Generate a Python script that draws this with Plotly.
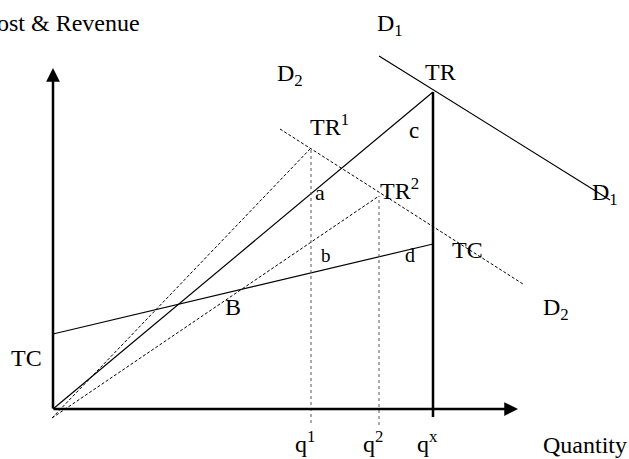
import plotly.graph_objects as go

# diagram values (quantity, cost/revenue), origin of axes at (0, 0)
axis_x_end = 465
axis_y_end = 341

q_labels = ["q<sup>1</sup>", "q<sup>2</sup>", "q<sup>x</sup>"]
q_values = [258, 326, 380]

tr_x = [0, 380]
tr_y = [0, 317]

tr1_x = [-1, 258]
tr1_y = [-9, 261]

tr2_x = [-1, 326]
tr2_y = [-9, 213]

tc_x = [0, 380]
tc_y = [75, 165]

d1_x = [326, 557]
d1_y = [353, 209]

d2_x = [227, 470]
d2_y = [280, 125]

q_tops = [261, 213, 317]
q_bottoms = [-14, -16, -8]

labels = [
    ("D<sub>1</sub>", 337, 384, 24),
    ("D<sub>2</sub>", 237, 334, 24),
    ("TR", 387, 337, 24),
    ("TR<sup>1</sup>", 276, 284, 24),
    ("c", 361, 279, 23),
    ("a", 267, 217, 22),
    ("TR<sup>2</sup>", 346, 220, 24),
    ("D<sub>1</sub>", 552, 215, 24),
    ("b", 273, 154, 19),
    ("d", 357, 154, 20),
    ("TC", 414, 159, 24),
    ("B", 180, 102, 24),
    ("D<sub>2</sub>", 503, 100, 24),
    ("TC", -27, 51, 24),
]

FONT = "Liberation Serif, Times New Roman, serif"

fig = go.Figure()

thin = dict(color="black", width=1.2)
dots = dict(color="black", width=1, dash="3px,2px")

fig.add_trace(go.Scatter(x=tr_x, y=tr_y, mode="lines", line=thin))
fig.add_trace(go.Scatter(x=tc_x, y=tc_y, mode="lines", line=thin))
fig.add_trace(go.Scatter(x=d1_x, y=d1_y, mode="lines", line=thin))
fig.add_trace(go.Scatter(x=tr1_x, y=tr1_y, mode="lines", line=dots))
fig.add_trace(go.Scatter(x=tr2_x, y=tr2_y, mode="lines", line=dots))
fig.add_trace(go.Scatter(x=d2_x, y=d2_y, mode="lines", line=dots))

# vertical lines at q1, q2 (dotted) and qx (thick)
for i, q in enumerate(q_values):
    if i < 2:
        ln = dict(color="#555555", width=1, dash="dot")
    else:
        ln = dict(color="black", width=2.5)
    fig.add_trace(go.Scatter(x=[q, q], y=[q_bottoms[i], q_tops[i]], mode="lines", line=ln))

# axes with arrowheads
fig.add_annotation(x=0, y=axis_y_end, ax=0, ay=-1, xref="x", yref="y", axref="x", ayref="y",
                   showarrow=True, arrowhead=2, arrowsize=1.1, arrowwidth=2.5, arrowcolor="black", text="")
fig.add_annotation(x=axis_x_end, y=0, ax=-1, ay=0, xref="x", yref="y", axref="x", ayref="y",
                   showarrow=True, arrowhead=2, arrowsize=1.1, arrowwidth=2.5, arrowcolor="black", text="")

for txt, x, y, size in labels:
    fig.add_annotation(x=x, y=y, text=txt, showarrow=False, font=dict(family=FONT, size=size, color="black"))

for txt, q in zip(q_labels, q_values):
    fig.add_annotation(x=q - 6, y=-33, text=txt, showarrow=False, font=dict(family=FONT, size=24, color="black"))

fig.add_annotation(x=532, y=-36, text="Quantity", showarrow=False, font=dict(family=FONT, size=24, color="black"))
fig.add_annotation(x=89, y=386, text="Cost & Revenue", xanchor="right", showarrow=False,
                   font=dict(family=FONT, size=24, color="black"))

fig.update_layout(
    width=629, height=459,
    margin=dict(l=0, r=0, t=0, b=0),
    showlegend=False,
    plot_bgcolor="white", paper_bgcolor="white",
)
fig.update_xaxes(range=[-53, 576], visible=False)
fig.update_yaxes(range=[-50, 409], visible=False)

# page body has a default margin; drop it so the figure sits at the top-left corner
fig.write_html("out.html", config={"displayModeBar": False},
               post_script="document.body.style.margin = '0';")
